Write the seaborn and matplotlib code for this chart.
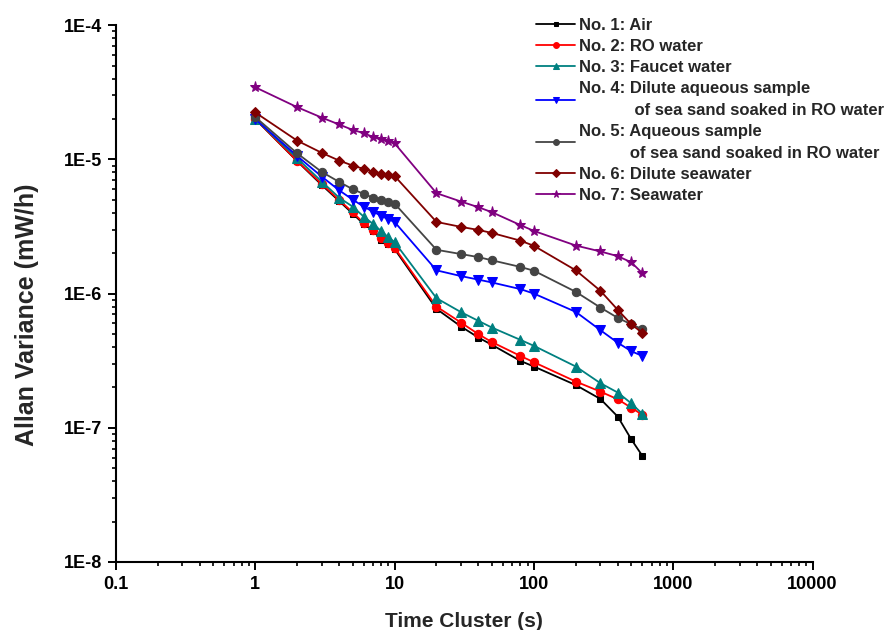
import numpy as np
import pandas as pd
import matplotlib
matplotlib.use("Agg")
import matplotlib.pyplot as plt
import matplotlib.ticker as mticker
import seaborn as sns

# Averaging time clusters (s)
tau = [1, 2, 3, 4, 5, 6, 7, 8, 9, 10, 20, 30, 40, 50, 80, 100, 200, 300, 400, 500, 600]

# Allan variance (mW/h) for each sample
air = [2.0e-5, 9.7e-6, 6.45e-6, 4.9e-6, 3.95e-6, 3.3e-6, 2.95e-6, 2.52e-6, 2.35e-6, 2.15e-6,
       7.69e-7, 5.68e-7, 4.7e-7, 4.15e-7, 3.15e-7, 2.86e-7, 2.08e-7, 1.64e-7, 1.21e-7, 8.2e-8, 6.18e-8]
ro_water = [2.0e-5, 9.75e-6, 6.57e-6, 4.99e-6, 4.04e-6, 3.36e-6, 3.0e-6, 2.59e-6, 2.39e-6, 2.2e-6,
            8.0e-7, 6.08e-7, 4.98e-7, 4.35e-7, 3.43e-7, 3.08e-7, 2.21e-7, 1.86e-7, 1.63e-7, 1.41e-7, 1.25e-7]
faucet = [2.0e-5, 1.02e-5, 6.84e-6, 5.19e-6, 4.45e-6, 3.75e-6, 3.31e-6, 2.93e-6, 2.63e-6, 2.42e-6,
          9.24e-7, 7.27e-7, 6.26e-7, 5.58e-7, 4.52e-7, 4.08e-7, 2.86e-7, 2.15e-7, 1.83e-7, 1.52e-7, 1.27e-7]
dilute_sand = [2.0e-5, 1.06e-5, 7.45e-6, 5.89e-6, 5.02e-6, 4.45e-6, 4.08e-6, 3.81e-6, 3.58e-6, 3.42e-6,
               1.49e-6, 1.35e-6, 1.27e-6, 1.21e-6, 1.08e-6, 1.0e-6, 7.3e-7, 5.34e-7, 4.3e-7, 3.72e-7, 3.43e-7]
sand = [2.07e-5, 1.11e-5, 8.07e-6, 6.8e-6, 6.0e-6, 5.53e-6, 5.19e-6, 4.96e-6, 4.8e-6, 4.69e-6,
        2.12e-6, 1.97e-6, 1.87e-6, 1.77e-6, 1.58e-6, 1.48e-6, 1.03e-6, 7.87e-7, 6.59e-7, 5.9e-7, 5.43e-7]
dilute_sea = [2.24e-5, 1.38e-5, 1.12e-5, 9.8e-6, 9.0e-6, 8.5e-6, 8.1e-6, 7.84e-6, 7.67e-6, 7.53e-6,
              3.42e-6, 3.14e-6, 2.98e-6, 2.83e-6, 2.48e-6, 2.27e-6, 1.49e-6, 1.05e-6, 7.56e-7, 5.9e-7, 5.1e-7]
seawater = [3.45e-5, 2.45e-5, 2.05e-5, 1.82e-5, 1.66e-5, 1.57e-5, 1.47e-5, 1.41e-5, 1.36e-5, 1.32e-5,
            5.6e-6, 4.85e-6, 4.4e-6, 4.04e-6, 3.24e-6, 2.93e-6, 2.28e-6, 2.06e-6, 1.9e-6, 1.71e-6, 1.42e-6]

labels = [
    "No. 1: Air",
    "No. 2: RO water",
    "No. 3: Faucet water",
    "No. 4: Dilute aqueous sample\n" + " " * 12 + "of sea sand soaked in RO water",
    "No. 5: Aqueous sample\n" + " " * 11 + "of sea sand soaked in RO water",
    "No. 6: Dilute seawater",
    "No. 7: Seawater",
]
series = [air, ro_water, faucet, dilute_sand, sand, dilute_sea, seawater]

colors = ["#000000", "#ff0000", "#008080", "#0000ff", "#444444", "#800000", "#800080"]
markers = ["s", "o", "^", "v", "o", "D", "*"]
msizes = [5, 6, 6.5, 6.5, 6, 5.5, 8]

sns.set_theme(style="ticks")
plt.rcParams["font.family"] = ["Liberation Sans", "DejaVu Sans"]
plt.rcParams["font.weight"] = "bold"

fig = plt.figure(figsize=(8.91, 6.30), dpi=100)
ax = fig.add_axes([0.130, 0.108, 0.782, 0.852])

for lab, vals, c, m, ms in zip(labels, series, colors, markers, msizes):
    df = pd.DataFrame({"tau": tau, "av": vals})
    sns.lineplot(data=df, x="tau", y="av", ax=ax, color=c, marker=m,
                 markersize=ms, markeredgecolor=c, linewidth=1.3, label=lab)

ax.set_xscale("log")
ax.set_yscale("log")
ax.set_xlim(0.1, 10000)
ax.set_ylim(1e-8, 1e-4)

ax.xaxis.set_major_locator(mticker.LogLocator(base=10, numticks=10))
ax.xaxis.set_minor_locator(mticker.LogLocator(base=10, subs=np.arange(2, 10), numticks=20))
ax.yaxis.set_major_locator(mticker.LogLocator(base=10, numticks=10))
ax.yaxis.set_minor_locator(mticker.LogLocator(base=10, subs=np.arange(2, 10), numticks=20))
ax.xaxis.set_major_formatter(mticker.FuncFormatter(lambda v, p: f"{v:g}"))
ax.yaxis.set_major_formatter(mticker.FuncFormatter(lambda v, p: f"1E{int(round(np.log10(v)))}"))
ax.xaxis.set_minor_formatter(mticker.NullFormatter())
ax.yaxis.set_minor_formatter(mticker.NullFormatter())

ax.tick_params(axis="both", which="major", direction="out", length=6, width=1.4,
               labelsize=13, pad=4, color="black", labelcolor="black")
ax.tick_params(axis="both", which="minor", direction="out", length=3.2, width=1.2, color="black")
for lbl in ax.get_xticklabels() + ax.get_yticklabels():
    lbl.set_fontweight("bold")

sns.despine(ax=ax)
for side in ("left", "bottom"):
    ax.spines[side].set_linewidth(1.5)
    ax.spines[side].set_color("black")

ax.set_xlabel("Time Cluster (s)", fontsize=15, fontweight="bold", labelpad=14)
ax.set_ylabel("Allan Variance (mW/h)", fontsize=18, fontweight="bold", labelpad=18)
ax.yaxis.label.set_y(0.46)

leg = ax.legend(loc="upper left", bbox_to_anchor=(0.602, 0.972), bbox_transform=fig.transFigure,
                frameon=False, fontsize=12, handlelength=2.3, handletextpad=0.25,
                labelspacing=0.37, borderpad=0, borderaxespad=0, markerscale=0.7)
for t in leg.get_texts():
    t.set_fontweight("bold")
    t.set_linespacing(1.55)

fig.savefig("out.png", dpi=100, facecolor="white")
